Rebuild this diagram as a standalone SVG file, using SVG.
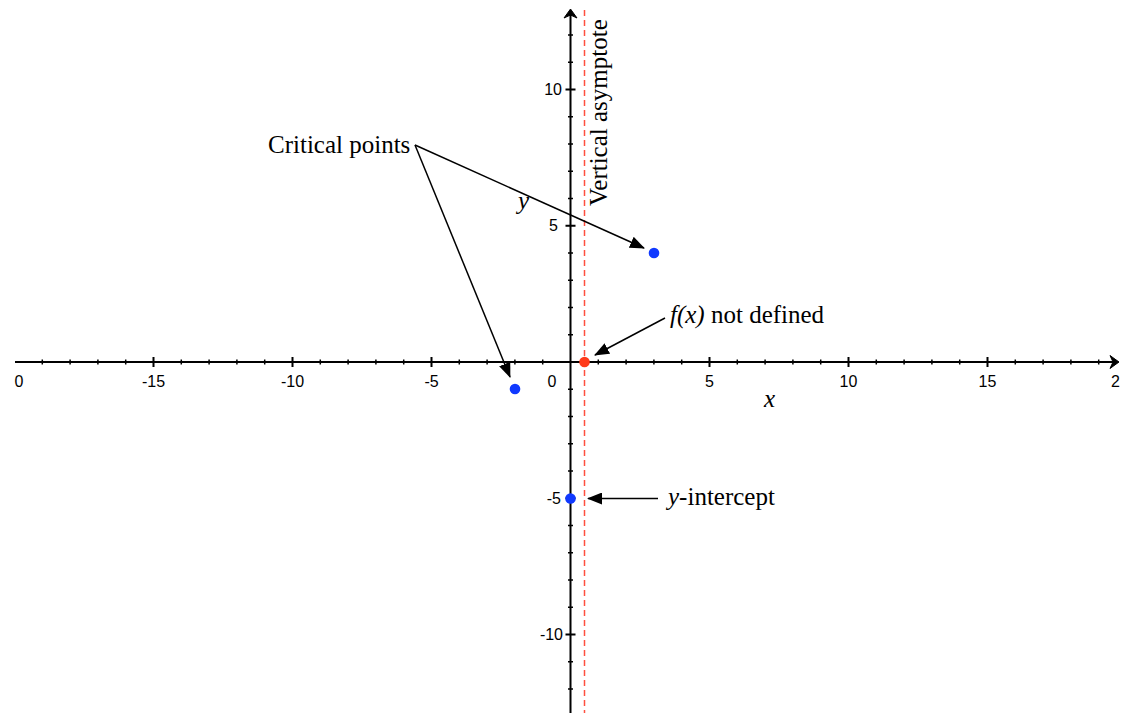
<svg xmlns="http://www.w3.org/2000/svg" width="1121" height="713" viewBox="0 0 1121 713">
<style>
.axis{stroke:#000;stroke-width:2;fill:none}
.head{fill:#000;stroke:#000;stroke-width:1;stroke-linejoin:miter}
.minor{stroke:#000;stroke-width:1.5}
.major{stroke:#000;stroke-width:2}
.num{font-family:"Liberation Sans",Arial,sans-serif;font-size:16px;fill:#000}
.lbl{font-family:"Liberation Serif","Times New Roman",serif;font-size:25px;fill:#000}
.it{font-style:italic}
.conn{stroke:#000;stroke-width:1.5;fill:none;marker-end:url(#ah)}
.blue{fill:#1039ff}
</style>
<defs>
<marker id="ah" markerWidth="15" markerHeight="12" refX="14" refY="6" orient="auto" markerUnits="userSpaceOnUse">
<path d="M0,0 L15,6 L0,12 Z" fill="#000"/>
</marker>
</defs>
<rect width="1121" height="713" fill="#fff"/>
<g id="axes">
<path class="axis" d="M15,362 H1114"/>
<path class="head" d="M1119,362 L1110,355.5 L1113,362 L1110,368.5 Z"/>
<path class="axis" d="M570.5,713 V14"/>
<path class="head" d="M570.5,9 L564,18 L570.5,15 L577,18 Z"/>
<path class="minor" d="M42.3,359.5v5M70.1,359.5v5M97.9,359.5v5M125.7,359.5v5M181.3,359.5v5M209.1,359.5v5M236.9,359.5v5M264.7,359.5v5M320.3,359.5v5M348.1,359.5v5M375.9,359.5v5M403.7,359.5v5M459.3,359.5v5M487.1,359.5v5M514.9,359.5v5M542.7,359.5v5M598.3,359.5v5M626.1,359.5v5M653.9,359.5v5M681.7,359.5v5M737.3,359.5v5M765.1,359.5v5M792.9,359.5v5M820.7,359.5v5M876.3,359.5v5M904.1,359.5v5M931.9,359.5v5M959.7,359.5v5M1015.3,359.5v5M1043.1,359.5v5M1070.9,359.5v5M1098.7,359.5v5"/>
<path class="major" d="M153.5,357v10M292.5,357v10M431.5,357v10M709.5,357v10M848.5,357v10M987.5,357v10"/>
<path class="minor" d="M568,35h5M568,62.25h5M568,116.75h5M568,144h5M568,171.25h5M568,198.5h5M568,253h5M568,280.25h5M568,307.5h5M568,334.75h5M568,389.25h5M568,416.5h5M568,443.75h5M568,471h5M568,525.5h5M568,552.75h5M568,580h5M568,607.25h5M568,661.75h5M568,689h5"/>
<path class="major" d="M565.5,89.5h10M565.5,225.75h10M565.5,498.25h10M565.5,634.5h10"/>
<g class="num" text-anchor="middle">
<text x="19" y="387">0</text>
<text x="153.5" y="387">-15</text>
<text x="292.5" y="387">-10</text>
<text x="431.5" y="387">-5</text>
<text x="552" y="387">0</text>
<text x="709.5" y="387">5</text>
<text x="848.5" y="387">10</text>
<text x="987.5" y="387">15</text>
</g>
<text class="num" x="1111" y="387">2</text>
<g class="num" text-anchor="end">
<text x="562" y="95">10</text>
<text x="558" y="231">5</text>
<text x="561" y="504">-5</text>
<text x="563" y="640">-10</text>
</g>
<text class="lbl it" x="764" y="407">x</text>
<text class="lbl it" x="518" y="209">y</text>
</g>
<g id="asymptote">
<path d="M584.5,10 V713" stroke="#ff5040" stroke-width="1.5" stroke-dasharray="6,4" fill="none"/>
<text class="lbl" transform="translate(607,206) rotate(-90)">Vertical asymptote</text>
</g>
<g id="points">
<circle class="blue" cx="654" cy="253" r="5.3"/>
<circle class="blue" cx="515" cy="389" r="5.3"/>
<circle class="blue" cx="570.5" cy="498.5" r="5.3"/>
<circle cx="584.5" cy="362" r="5.3" fill="#ff3a1a"/>
</g>
<g id="labels">
<text class="lbl" x="268" y="153">Critical points</text>
<text class="lbl" x="670" y="323"><tspan class="it">f(x)</tspan> not defined</text>
<text class="lbl" x="668" y="505"><tspan class="it">y</tspan>-intercept</text>
</g>
<g id="connectors">
<path class="conn" d="M415,145 L644,248"/>
<path class="conn" d="M415,145 L510,377"/>
<path class="conn" d="M665,318 L595,355"/>
<path class="conn" d="M658,498.5 L588,498.5"/>
</g>
</svg>
